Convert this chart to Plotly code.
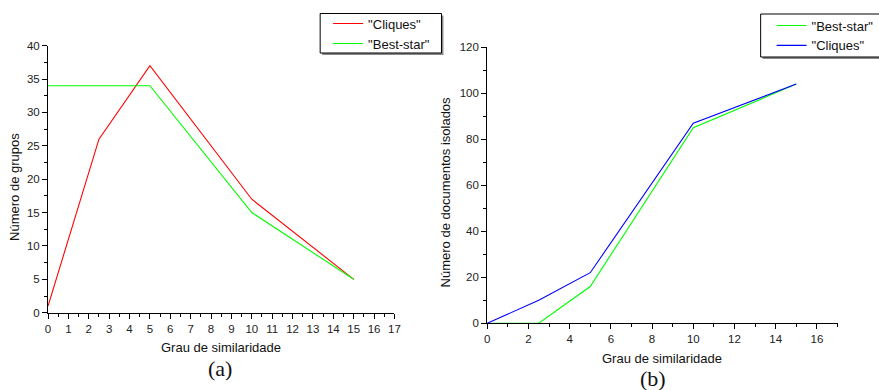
import plotly.graph_objects as go

W, H = 879, 390

# Chart (a)
a_x_cliques = [0, 2.5, 5, 10, 15]
a_y_cliques = [1, 26, 37, 17, 5]
a_x_best = [0, 5, 10, 15]
a_y_best = [34, 34, 15, 5]

# Chart (b)
b_x_best = [0, 2.5, 5, 10, 15]
b_y_best = [0, 0, 16, 85, 104]
b_x_cliques = [0, 2.5, 5, 10, 15]
b_y_cliques = [0, 10, 22, 87, 104]

RED, GREEN, BLUE = "#ff0000", "#00ff00", "#0000ff"
FONT = "Liberation Sans, Arial, sans-serif"
SERIF = "Liberation Serif, Times New Roman, serif"

fig = go.Figure()
fig.add_trace(go.Scatter(x=a_x_cliques, y=a_y_cliques, mode="lines", name='"Cliques"',
                         line=dict(color=RED, width=1.1), xaxis="x", yaxis="y", legend="legend"))
fig.add_trace(go.Scatter(x=a_x_best, y=a_y_best, mode="lines", name='"Best-star"',
                         line=dict(color=GREEN, width=1.1), xaxis="x", yaxis="y", legend="legend"))
fig.add_trace(go.Scatter(x=b_x_best, y=b_y_best, mode="lines", name='"Best-star"',
                         line=dict(color=GREEN, width=1.1), xaxis="x2", yaxis="y2", legend="legend2"))
fig.add_trace(go.Scatter(x=b_x_cliques, y=b_y_cliques, mode="lines", name='"Cliques"',
                         line=dict(color=BLUE, width=1.1), xaxis="x2", yaxis="y2", legend="legend2"))

def px_x(v):
    return v / W

def px_y(v):
    return 1 - v / H

axis_common = dict(showgrid=False, zeroline=False, showline=True, linecolor="black", linewidth=1,
                   ticks="outside", ticklen=5, tickcolor="black", tickwidth=1, automargin=False,
                   tickfont=dict(family=FONT, size=11.5, color="#222"))

legend_common = dict(xanchor="left", yanchor="top", bgcolor="rgba(0,0,0,0)", borderwidth=0,
                     font=dict(family=FONT, size=13, color="#111"), tracegroupgap=0,
                     itemwidth=30, traceorder="normal")

fig.update_layout(
    width=W, height=H,
    margin=dict(l=0, r=0, t=0, b=0),
    paper_bgcolor="white", plot_bgcolor="white",
    showlegend=True,
    xaxis=dict(domain=[px_x(48.3), px_x(396.7)], range=[0, 17], dtick=1, tick0=0,
               minor=dict(dtick=0.5, ticks="outside", ticklen=3, tickcolor="black"),
               anchor="y", **axis_common),
    yaxis=dict(domain=[px_y(312.7), px_y(45.7)], range=[0, 40], dtick=5, tick0=0,
               minor=dict(dtick=2.5, ticks="outside", ticklen=3, tickcolor="black"),
               anchor="x", **axis_common),
    xaxis2=dict(domain=[px_x(490), px_x(842.3)], range=[0, 17], dtick=2, tick0=0,
                minor=dict(dtick=1, ticks="outside", ticklen=3, tickcolor="black"),
                anchor="y2", **axis_common),
    yaxis2=dict(domain=[px_y(323.3), px_y(47.3)], range=[0, 120], dtick=20, tick0=0,
                minor=dict(dtick=10, ticks="outside", ticklen=3, tickcolor="black"),
                anchor="x2", **axis_common),
    legend=dict(x=px_x(330), y=px_y(8.6), **legend_common),
    legend2=dict(x=px_x(776), y=px_y(10.5), **legend_common),
)

def box(x0, y0, x1, y1):
    return [
        dict(type="rect", xref="paper", yref="paper", layer="below",
             x0=px_x(x0 + 2), x1=px_x(x1 + 2), y0=px_y(y1 + 2), y1=px_y(y0 + 2),
             fillcolor="#8a8a8a", line=dict(width=0)),
        dict(type="rect", xref="paper", yref="paper", layer="below",
             x0=px_x(x0), x1=px_x(x1), y0=px_y(y1), y1=px_y(y0),
             fillcolor="white", line=dict(color="black", width=1)),
    ]

fig.update_layout(shapes=box(322, 13.5, 444, 53) + box(765, 14, 890, 57))

def ann(text, x, y, size=13, family=FONT, angle=0):
    return dict(text=text, x=px_x(x), y=px_y(y), xref="paper", yref="paper",
                xanchor="center", yanchor="middle", textangle=angle,
                showarrow=False, font=dict(family=family, size=size, color="#111"))

fig.update_layout(annotations=[
    ann("Grau de similaridade", 222.5, 347),
    ann("Número de grupos", 14, 187, angle=-90),
    ann("(a)", 221, 368, size=22, family=SERIF),
    ann("Grau de similaridade", 666, 358),
    ann("Número de documentos isolados", 448, 192, angle=-90),
    ann("(b)", 657, 378, size=22, family=SERIF),
])

fig.write_html("out.html")
